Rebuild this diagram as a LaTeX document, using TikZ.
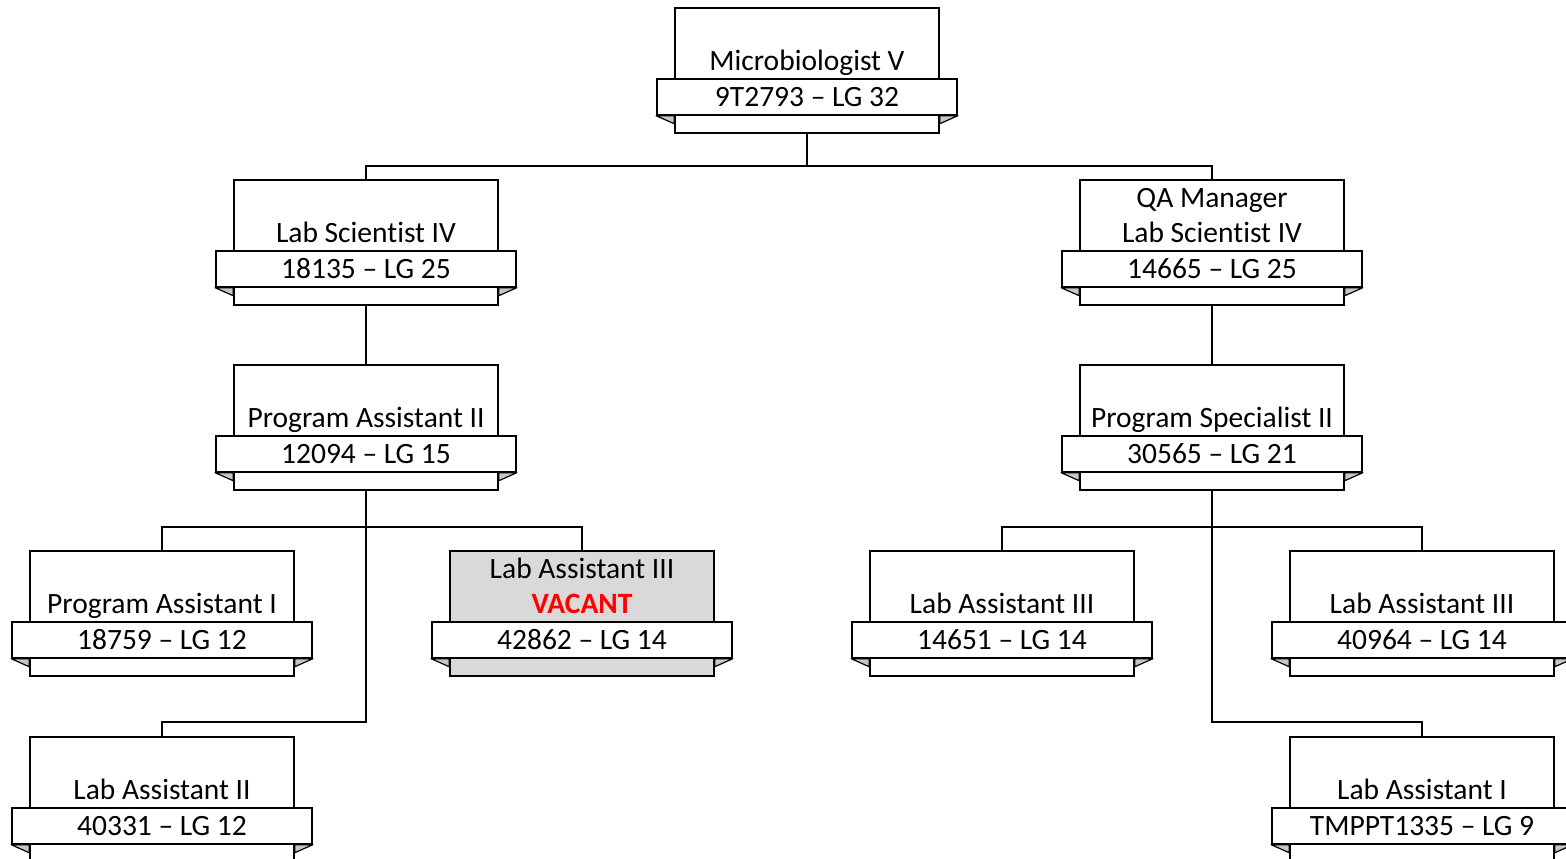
\documentclass[tikz,border=0pt]{standalone}
\usepackage{fontspec}
\setmainfont{Carlito}[Ligatures=NoCommon]
\usetikzlibrary{calc, positioning}

\tikzset{
    every node/.style={font=\fontsize{29.5}{35}\selectfont},
    mainbox/.style={draw, line width=1.7pt, minimum width=264pt, minimum height=125pt, inner sep=0pt, anchor=north},
    band/.style={draw, fill=white, line width=1.7pt, minimum width=300pt, minimum height=36pt, inner sep=0pt},
    title/.style={align=center, inner sep=0pt, text depth=0pt},
    fold/.style={draw, fill=black!22, line width=1.2pt, line join=round},
    link/.style={line width=2.3pt}
}

\newcommand{\orgbox}[6]{%
    \node[mainbox, fill=#4] (#1) at (#2,#3) {};
    \node[band, below=71pt of #1.north] (#1-band) {#6};
    \node[title, above=7pt of #1-band.north] (#1-title) {#5};
    \draw[fold] (#1-band.south west) -- (#1-band.south west -| #1.west) -- ++(0,8) -- cycle;
    \draw[fold] (#1-band.south east) -- (#1-band.south east -| #1.east) -- ++(0,8) -- cycle;
}

\begin{document}
\begin{tikzpicture}[x=1pt, y=-1pt]
    \useasboundingbox (0,0) rectangle (1566,859);

    \orgbox{micro}{807}{7}{white}{Microbiologist V}{9T2793 – LG 32}
    \orgbox{labsci}{366}{179}{white}{Lab Scientist IV}{18135 – LG 25}
    \orgbox{qa}{1212}{179}{white}{QA Manager\\Lab Scientist IV}{14665 – LG 25}
    \orgbox{progasst}{366}{364}{white}{Program Assistant II}{12094 – LG 15}
    \orgbox{progspec}{1212}{364}{white}{Program Specialist II}{30565 – LG 21}
    \orgbox{progasstone}{162}{550}{white}{Program Assistant I}{18759 – LG 12}
    \orgbox{vacant}{582}{550}{black!15}{Lab Assistant III\\\textcolor{red}{\bfseries VACANT}}{42862 – LG 14}
    \orgbox{labasstA}{1002}{550}{white}{Lab Assistant III}{14651 – LG 14}
    \orgbox{labasstB}{1422}{550}{white}{Lab Assistant III}{40964 – LG 14}
    \orgbox{labasstii}{162}{736}{white}{Lab Assistant II}{40331 – LG 12}
    \orgbox{labassti}{1422}{736}{white}{Lab Assistant I}{TMPPT1335 – LG 9}

    \draw[link] (micro.south) -- ++(0,32) coordinate (split);
    \draw[link] (labsci.north) |- (split) -| (qa.north);
    \draw[link] (labsci.south) -- (progasst.north);
    \draw[link] (qa.south) -- (progspec.north);

    \draw[link] (progasst.south) -- ++(0,231) -| (labasstii.north);
    \draw[link] (progasstone.north) |- ($(progasst.south)+(0,36)$) -| (vacant.north);
    \draw[link] (progspec.south) -- ++(0,231) -| (labassti.north);
    \draw[link] (labasstA.north) |- ($(progspec.south)+(0,36)$) -| (labasstB.north);
\end{tikzpicture}
\end{document}
